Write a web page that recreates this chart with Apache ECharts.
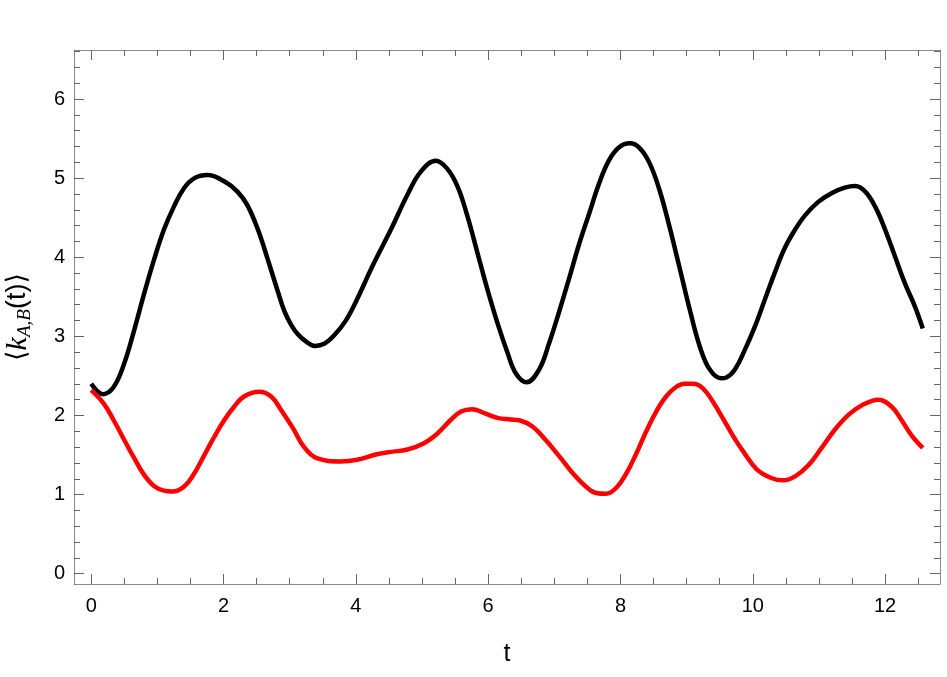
<!DOCTYPE html>
<html>
<head>
<meta charset="utf-8">
<script src="https://cdn.jsdelivr.net/npm/echarts@6/dist/echarts.min.js"></script>
<style>html,body{margin:0;padding:0;background:#fff}#c{width:947px;height:677px}</style>
</head>
<body>
<div id="c"></div>
<script>
// ---- data ----
const blackT = [0,0.18,0.34,0.5,0.65,0.8,0.95,1.1,1.25,1.4,1.56,1.76,2.01,2.21,2.36,2.52,2.67,2.82,2.92,3.02,3.12,3.24,3.38,3.53,3.68,3.84,3.99,4.27,4.53,4.78,4.98,5.21,5.38,5.54,5.69,5.84,5.99,6.14,6.29,6.42,6.58,6.77,6.92,7.08,7.23,7.38,7.53,7.68,7.83,7.98,8.14,8.29,8.44,8.59,8.74,8.89,9.05,9.2,9.35,9.52,9.6,9.73,9.88,10.03,10.18,10.33,10.48,10.64,10.79,10.99,11.19,11.39,11.55,11.7,11.85,12.0,12.15,12.3,12.45,12.57];
const blackV = [2.40,2.27,2.36,2.66,3.08,3.54,3.97,4.35,4.64,4.87,5.00,5.04,4.96,4.83,4.66,4.35,3.97,3.57,3.32,3.15,3.03,2.94,2.88,2.91,3.02,3.19,3.42,3.92,4.35,4.79,5.08,5.22,5.12,4.89,4.51,4.05,3.59,3.17,2.80,2.53,2.42,2.58,2.91,3.33,3.75,4.18,4.56,4.94,5.23,5.39,5.44,5.38,5.19,4.85,4.39,3.88,3.33,2.87,2.58,2.47,2.48,2.58,2.83,3.12,3.46,3.80,4.11,4.35,4.53,4.70,4.81,4.88,4.90,4.83,4.64,4.35,4.01,3.67,3.38,3.10];
const redT = [0,0.19,0.34,0.5,0.65,0.8,0.95,1.1,1.23,1.4,1.56,1.71,1.86,2.01,2.16,2.31,2.54,2.72,2.87,3.05,3.21,3.41,3.77,4.02,4.32,4.53,4.78,5.03,5.23,5.43,5.59,5.76,5.94,6.14,6.34,6.47,6.67,6.87,7.08,7.28,7.48,7.63,7.78,7.93,8.09,8.24,8.39,8.54,8.69,8.84,8.97,9.1,9.25,9.4,9.55,9.71,9.86,10.06,10.28,10.46,10.64,10.84,11.04,11.24,11.45,11.65,11.9,12.1,12.25,12.4,12.57];
const redV = [2.32,2.15,1.94,1.69,1.46,1.25,1.11,1.05,1.04,1.10,1.27,1.50,1.73,1.94,2.11,2.24,2.30,2.24,2.07,1.84,1.61,1.46,1.42,1.44,1.51,1.54,1.57,1.65,1.77,1.94,2.05,2.08,2.03,1.97,1.95,1.94,1.86,1.69,1.48,1.27,1.10,1.02,1.01,1.08,1.27,1.52,1.80,2.05,2.24,2.36,2.40,2.40,2.34,2.17,1.96,1.73,1.54,1.32,1.21,1.18,1.23,1.37,1.59,1.82,2.01,2.13,2.20,2.11,1.94,1.75,1.59];
const xMajor = [0,2,4,6,8,10,12];
const xMinor = [0.5,1,1.5,2.5,3,3.5,4.5,5,5.5,6.5,7,7.5,8.5,9,9.5,10.5,11,11.5,12.5];
const yMajor = [0,1,2,3,4,5,6];
const yMinor = [0.2,0.4,0.6,0.8,1.2,1.4,1.6,1.8,2.2,2.4,2.6,2.8,3.2,3.4,3.6,3.8,4.2,4.4,4.6,4.8,5.2,5.4,5.6,5.8,6.2,6.4,6.6];
const X_MIN = -0.26, X_MAX = 12.83, Y_MIN = -0.13, Y_MAX = 6.62;

const zip = (a, b) => a.map((v, i) => [v, b[i]]);
const FONT = 'Liberation Sans, Arial, sans-serif';
const lineCol = '#8a8a8a', tickCol = '#666';

function xAx(pos, major, showLabel, showLine) {
  return {
    type: 'value', position: pos, min: X_MIN, max: X_MAX,
    splitLine: {show: false},
    axisLine: {show: showLine, onZero: false, lineStyle: {color: lineCol, width: 1}},
    axisTick: {show: true, inside: true, length: major ? 10 : 6,
               customValues: major ? xMajor : xMinor,
               lineStyle: {color: tickCol, width: 1}},
    axisLabel: {show: showLabel, customValues: xMajor, color: '#000',
                fontFamily: FONT, fontSize: 20, margin: 12},
    axisPointer: {show: false}
  };
}
function yAx(pos, major, showLabel, showLine) {
  return {
    type: 'value', position: pos, min: Y_MIN, max: Y_MAX,
    splitLine: {show: false},
    axisLine: {show: showLine, onZero: false, lineStyle: {color: lineCol, width: 1}},
    axisTick: {show: true, inside: true, length: major ? 10 : 6,
               customValues: major ? yMajor : yMinor,
               lineStyle: {color: tickCol, width: 1}},
    axisLabel: {show: showLabel, customValues: yMajor, color: '#000',
                fontFamily: FONT, fontSize: 20, margin: 9},
  };
}

const xAxes = [xAx('bottom', true, true, true), xAx('bottom', false, false, false),
               xAx('top', true, false, true), xAx('top', false, false, false)];
xAxes[0].name = 't';
xAxes[0].nameLocation = 'middle';
xAxes[0].nameGap = 58;
xAxes[0].nameTextStyle = {fontFamily: FONT, fontSize: 25, color: '#000'};

const yAxes = [yAx('left', true, true, true), yAx('left', false, false, false),
               yAx('right', true, false, true), yAx('right', false, false, false)];
yAxes[0].name = '{a|⟨}{k|k}{s|A,B}{a|(t)⟩}';
yAxes[0].nameLocation = 'middle';
yAxes[0].nameRotate = 90;
yAxes[0].nameGap = 40;
yAxes[0].nameTextStyle = {
  color: '#000', fontSize: 27, fontFamily: FONT,
  rich: {
    a: {fontFamily: 'Liberation Sans, DejaVu Sans, sans-serif', fontSize: 27, lineHeight: 32, color: '#000', verticalAlign: 'middle'},
    k: {fontFamily: 'Liberation Serif, serif', fontStyle: 'italic', fontSize: 30, lineHeight: 32, color: '#000', verticalAlign: 'middle'},
    s: {fontFamily: 'Liberation Serif, serif', fontStyle: 'italic', fontSize: 19, lineHeight: 19, color: '#000', verticalAlign: 'bottom'}
  }
};

const chart = echarts.init(document.getElementById('c'), null, {renderer: 'canvas'});
chart.setOption({
  animation: false,
  backgroundColor: '#fff',
  grid: {left: 74, right: 7, top: 50, bottom: 93, containLabel: false, outerBoundsMode: 'none'},
  xAxis: xAxes,
  yAxis: yAxes,
  series: [
    {type: 'line', xAxisIndex: 0, yAxisIndex: 0, data: zip(blackT, blackV), showSymbol: false,
     smooth: 0.4, lineStyle: {color: '#000', width: 4.5}, z: 3},
    {type: 'line', xAxisIndex: 0, yAxisIndex: 0, data: zip(redT, redV), showSymbol: false,
     smooth: 0.4, lineStyle: {color: '#ff0000', width: 4.5}, z: 4}
  ]
});
</script>
</body>
</html>
